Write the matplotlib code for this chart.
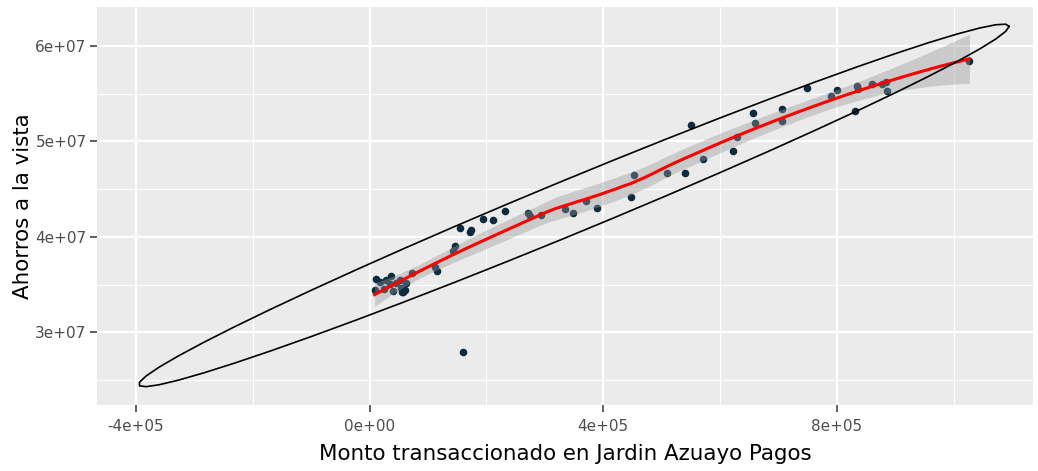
import numpy as np
import matplotlib.pyplot as plt

# datos (el grupo cerca de 0e+00 tiene puntos superpuestos)
monto = np.array([
    8600, 11100, 18000, 27400, 37200, 34300, 45700, 54300, 57000, 62900,
    73100, 51400, 111300, 114800, 142200, 145600, 155000, 171300, 174200, 193600,
    210700, 231300, 270700, 274100, 293800, 334900, 347800, 370000, 388900, 448300,
    452300, 508800, 540500, 571300, 551100, 621800, 628700, 655600, 660400, 705300,
    705300, 749500, 789700, 800900, 831700, 833700, 836500, 859400, 876600, 884800,
    885700, 1027000, 159300,
    40000, 55000, 25000, 60000])
ahorros = np.array([
    3.443e7, 3.555e7, 3.523e7, 3.544e7, 3.586e7, 3.503e7, 3.520e7, 3.468e7, 3.422e7, 3.513e7,
    3.618e7, 3.544e7, 3.680e7, 3.639e7, 3.847e7, 3.900e7, 4.088e7, 4.046e7, 4.072e7, 4.192e7,
    4.182e7, 4.271e7, 4.250e7, 4.218e7, 4.229e7, 4.292e7, 4.255e7, 4.375e7, 4.302e7, 4.422e7,
    4.645e7, 4.673e7, 4.673e7, 4.819e7, 5.175e7, 4.897e7, 5.049e7, 5.303e7, 5.195e7, 5.342e7,
    5.211e7, 5.556e7, 5.472e7, 5.535e7, 5.321e7, 5.582e7, 5.551e7, 5.603e7, 5.598e7, 5.619e7,
    5.530e7, 5.846e7, 2.792e7,
    3.430e7, 3.420e7, 3.450e7, 3.440e7])

x_ticks = [-4e5, 0, 4e5, 8e5]
x_labels = ['-4e+05', '0e+00', '4e+05', '8e+05']
y_ticks = [3e7, 4e7, 5e7, 6e7]
y_labels = ['3e+07', '4e+07', '5e+07', '6e+07']

F_95 = 3.17    # qf(0.95, 2, n - 1)
T_95 = 2.0     # qt(0.975, df)


# covarianza robusta t (como MASS::cov.trob)
def cov_trob(X, nu=5, maxit=25, tol=0.01):
    n, p = X.shape
    loc = X.mean(axis=0)
    w = np.ones(n)
    for _ in range(maxit):
        w0 = w
        Xc = X - loc
        _, d, vt = np.linalg.svd(np.sqrt(w / w.sum())[:, None] * Xc, full_matrices=False)
        wX = Xc @ vt.T @ np.diag(1 / d)
        Q = (wX ** 2).sum(axis=1)
        w = (nu + p) / (nu + Q)
        loc = (w[:, None] * X).sum(axis=0) / w.sum()
        if np.all(np.abs(w - w0) < tol):
            break
    Xc = X - loc
    cov = (np.sqrt(w)[:, None] * Xc).T @ (np.sqrt(w)[:, None] * Xc) / n
    return loc, cov


def ellipse(x, y, segments=51):
    loc, cov = cov_trob(np.column_stack([x, y]))
    radius = np.sqrt(2 * F_95)
    ang = np.linspace(0, 2 * np.pi, segments + 1)
    circ = np.column_stack([np.cos(ang), np.sin(ang)])
    U = np.linalg.cholesky(cov).T
    e = loc + radius * circ @ U
    return e[:, 0], e[:, 1]


# loess grado 2, span 0.75
def loess_rows(x, x0, span=0.75):
    n = len(x)
    q = int(np.floor(n * span))
    rows = []
    for v in x0:
        d = np.abs(x - v)
        h = np.sort(d)[q - 1]
        u = np.clip(d / h, 0, 1)
        w = (1 - u ** 3) ** 3
        B = np.column_stack([np.ones(n), x - v, (x - v) ** 2])
        A = B.T @ (w[:, None] * B)
        rows.append(np.linalg.solve(A, B.T * w)[0])
    return np.array(rows)


xs = monto / 1e6
L_data = loess_rows(xs, xs)
res = ahorros - L_data @ ahorros
IL = np.eye(len(xs)) - L_data
one_delta = np.trace(IL.T @ IL)
s = np.sqrt((res ** 2).sum() / one_delta)

grid = np.linspace(xs.min(), xs.max(), 80)
L_grid = loess_rows(xs, grid)
fit = L_grid @ ahorros
se = s * np.sqrt((L_grid ** 2).sum(axis=1))

ex, ey = ellipse(monto, ahorros)

plt.rcParams['font.family'] = ['DejaVu Sans']

fig = plt.figure(figsize=(10.38, 4.71), dpi=100)
ax = fig.add_axes([0.0934, 0.14, 0.9018, 0.845])
ax.set_facecolor('#EBEBEB')
for sp in ax.spines.values():
    sp.set_visible(False)

ax.set_xticks([-2e5, 2e5, 6e5, 1e6], minor=True)
ax.set_yticks([2.5e7, 3.5e7, 4.5e7, 5.5e7], minor=True)
ax.grid(which='major', color='white', linewidth=1.6)
ax.grid(which='minor', color='white', linewidth=0.8)
ax.set_axisbelow(True)

ax.scatter(monto, ahorros, s=30, color='#0b2b40', zorder=3, linewidths=0)
ax.fill_between(grid * 1e6, fit - T_95 * se, fit + T_95 * se, color='#999999',
                alpha=0.4, linewidth=0, zorder=4)
ax.plot(grid * 1e6, fit, color='red', linewidth=2.2, zorder=5)
ax.plot(ex, ey, color='black', linewidth=1.2, zorder=6)

ax.set_xlim(-4.668e5, 1.1358e6)
ax.set_ylim(2.2383e7, 6.4075e7)
ax.set_xticks(x_ticks)
ax.set_xticklabels(x_labels)
ax.set_yticks(y_ticks)
ax.set_yticklabels(y_labels)
ax.tick_params(which='major', length=5, width=1.1, color='#333333',
               labelcolor='#4D4D4D', labelsize=11)
ax.tick_params(axis='x', pad=5)
ax.tick_params(axis='y', pad=2.5)
ax.tick_params(which='minor', length=0)

ax.set_xlabel('Monto transaccionado en Jardin Azuayo Pagos', fontsize=15.4, labelpad=7)
ax.set_ylabel('Ahorros a la vista', fontsize=15.4, labelpad=2)

fig.savefig('out.png', dpi=100)
